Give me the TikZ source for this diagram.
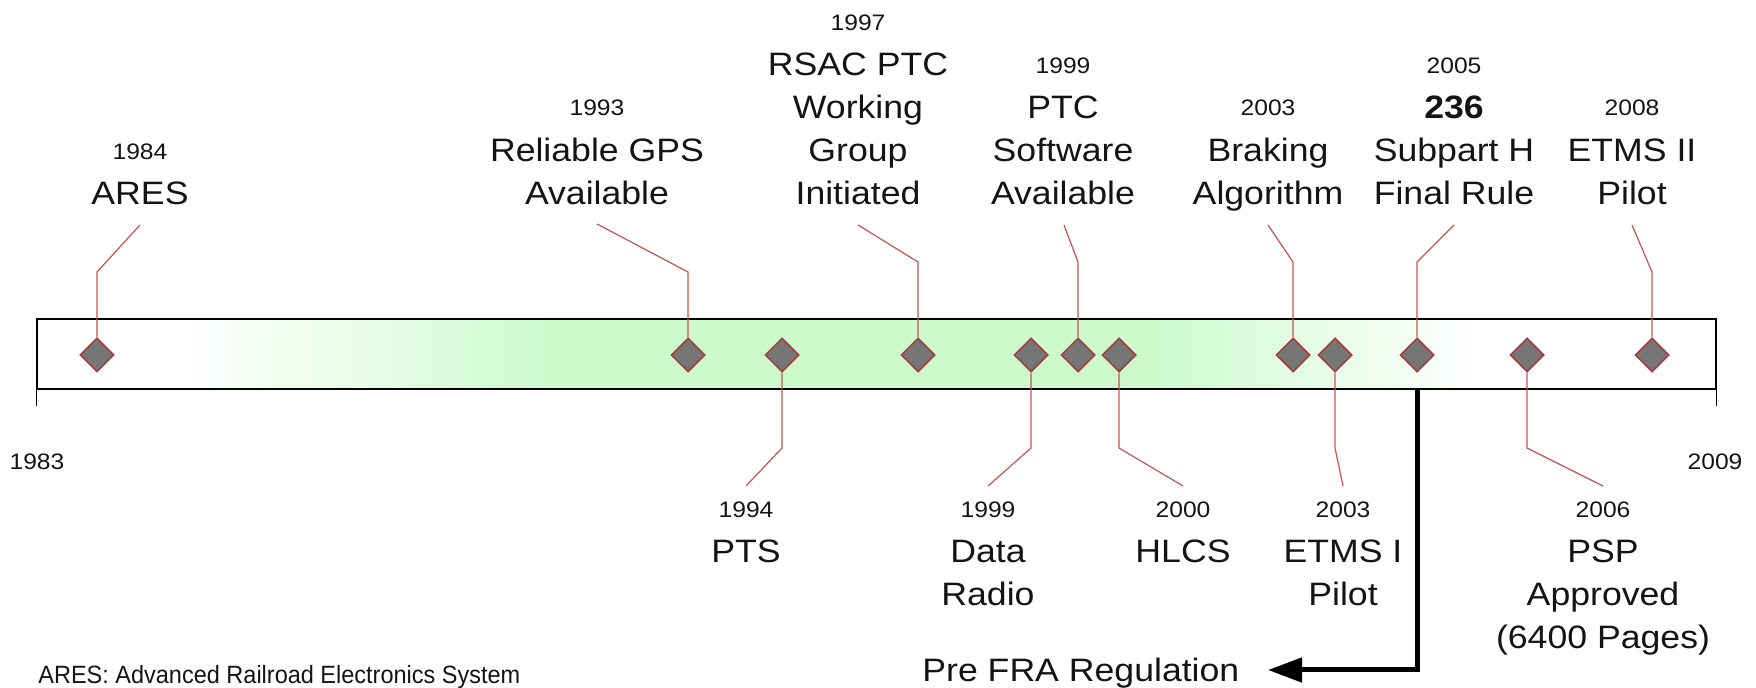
\documentclass[tikz,border=0pt]{standalone}
\usepackage{fontspec}
\setmainfont{Liberation Sans}[FakeStretch=1.1]
\newfontfamily\legfont{Liberation Sans}[FakeStretch=0.94]
\usetikzlibrary{shapes.geometric,arrows.meta}
\definecolor{conn}{RGB}{196,84,84}
\definecolor{dmdfill}{RGB}{118,118,118}
\definecolor{dmdline}{RGB}{165,60,60}
\definecolor{bargreen}{RGB}{204,250,204}
\definecolor{txt}{RGB}{20,20,20}
\pgfdeclarehorizontalshading{barshade}{100bp}{color(0bp)=(white); color(29.3bp)=(white); color(40.5bp)=(bargreen); color(58bp)=(bargreen); color(68bp)=(white); color(100bp)=(white)}
\begin{document}
\begin{tikzpicture}[x=0.5pt,y=-0.5pt,
  evt/.style={shape=diamond, draw=dmdline, fill=dmdfill, line width=0.75pt, inner sep=0pt, minimum width=17pt, minimum height=17pt},
  lead/.style={draw=conn, line width=0.6pt},
  yr/.style={font=\fontsize{11.2}{13}\selectfont, text=txt, inner sep=0pt, anchor=base},
  lbl/.style={font=\fontsize{16.2}{21.5}\selectfont, text=txt, inner sep=0pt, anchor=north, align=center},
  bigtxt/.style={font=\fontsize{16.2}{21.5}\selectfont, text=txt, inner sep=0pt, anchor=base west},
  legtxt/.style={font=\legfont\fontsize{12.5}{15}\selectfont, text=txt, inner sep=0pt, anchor=base west}]
\useasboundingbox (0,0) rectangle (1756,688);

% timeline bar
\node[draw, line width=0.6pt, shading=barshade, inner sep=0pt, minimum width=839.5pt, minimum height=35pt] (bar) at (876.5,354) {};
\draw[line width=0.6pt] (bar.south west) -- ++(0,16);
\draw[line width=0.6pt] (bar.south east) -- ++(0,16);

% end years
\node[yr] (y83) at (37,470) {1983};
\node[yr] (y09) at (1715,470) {2009};

% diamonds
\foreach \n/\x in {a84/97, a93/688, a97/918, a99/1078, a03/1293, a05/1417, a08/1652,
                   b94/782, b99/1031, b00/1119, b03/1335, b06/1527}
  \node[evt] (\n) at (\x,355) {};

% bend and end points of the leaders
\coordinate (a84b) at (97,272);   \coordinate (a84e) at (140,225);
\coordinate (a93b) at (688,272);  \coordinate (a93e) at (597,224);
\coordinate (a97b) at (918,262);  \coordinate (a97e) at (858,225);
\coordinate (a99b) at (1078,262); \coordinate (a99e) at (1064,225);
\coordinate (a03b) at (1293,262); \coordinate (a03e) at (1268,225);
\coordinate (a05b) at (1417,262); \coordinate (a05e) at (1454,225);
\coordinate (a08b) at (1652,272); \coordinate (a08e) at (1632,225);
\coordinate (b94b) at (782,448);  \coordinate (b94e) at (746,486);
\coordinate (b99b) at (1031,448); \coordinate (b99e) at (988,486);
\coordinate (b00b) at (1119,448); \coordinate (b00e) at (1183,486);
\coordinate (b03b) at (1335,448); \coordinate (b03e) at (1343,486);
\coordinate (b06b) at (1527,448); \coordinate (b06e) at (1603,486);

\foreach \n in {a84,a93,a97,a99,a03,a05,a08}
  \draw[lead] (\n.north) -- (\n b) -- (\n e);
\foreach \n in {b94,b99,b00,b03,b06}
  \draw[lead] (\n.south) -- (\n b) -- (\n e);

% top labels
\node[yr] (ya84) at (140,160) {1984};
\node[lbl] (ta84) at (140,179) {\rule{0pt}{12.5pt}ARES};
\node[yr] (ya93) at (597,116) {1993};
\node[lbl] (ta93) at (597,136) {\rule{0pt}{12.5pt}Reliable GPS\\Available};
\node[yr] (ya97) at (858,31) {1997};
\node[lbl] (ta97) at (858,50) {\rule{0pt}{12.5pt}RSAC PTC\\Working\\Group\\Initiated};
\node[yr] (ya99) at (1063,74) {1999};
\node[lbl] (ta99) at (1063,93) {\rule{0pt}{12.5pt}PTC\\Software\\Available};
\node[yr] (ya03) at (1268,116) {2003};
\node[lbl] (ta03) at (1268,136) {\rule{0pt}{12.5pt}Braking\\Algorithm};
\node[yr] (ya05) at (1454,74) {2005};
\node[lbl] (ta05) at (1454,93) {\rule{0pt}{12.5pt}\textbf{236}\\Subpart H\\Final Rule};
\node[yr] (ya08) at (1632,116) {2008};
\node[lbl] (ta08) at (1632,136) {\rule{0pt}{12.5pt}ETMS II\\Pilot};

% bottom labels
\node[yr] (yb94) at (746,518) {1994};
\node[lbl] (tb94) at (746,537) {\rule{0pt}{12.5pt}PTS};
\node[yr] (yb99) at (988,518) {1999};
\node[lbl] (tb99) at (988,537) {\rule{0pt}{12.5pt}Data\\Radio};
\node[yr] (yb00) at (1183,518) {2000};
\node[lbl] (tb00) at (1183,537) {\rule{0pt}{12.5pt}HLCS};
\node[yr] (yb03) at (1343,518) {2003};
\node[lbl] (tb03) at (1343,537) {\rule{0pt}{12.5pt}ETMS I\\Pilot};
\node[yr] (yb06) at (1603,518) {2006};
\node[lbl] (tb06) at (1603,537) {\rule{0pt}{12.5pt}PSP\\Approved\\(6400 Pages)};

% regulation arrow
\node[bigtxt] (pre) at (922,682) {Pre FRA Regulation};
\coordinate (arS) at (a05 |- bar.south);
\coordinate (arC) at (1417,670);
\coordinate (arT) at (1268,670);
\draw[line width=2.5pt, -{Triangle[length=17pt,width=12pt]}] (arS) -- (arC) -- (arT);

% legend
\node[legtxt] (leg) at (38,684) {ARES: Advanced Railroad Electronics System};
\end{tikzpicture}
\end{document}
